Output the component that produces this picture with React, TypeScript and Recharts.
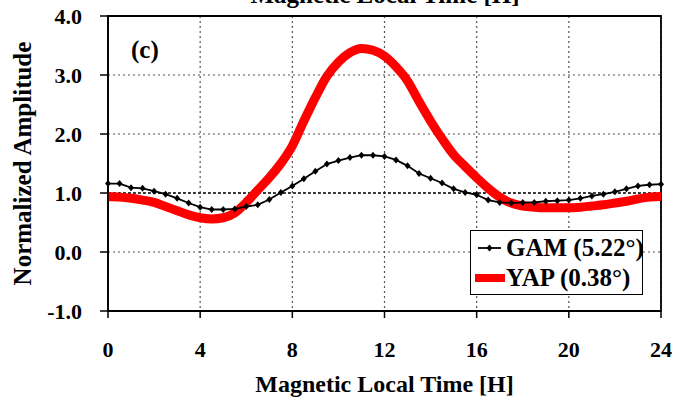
import React from "react";
import {
  LineChart,
  Line,
  XAxis,
  YAxis,
  CartesianGrid,
  ReferenceLine,
  ReferenceArea,
} from "recharts";

// magnetic local time, half-hour steps
const hours = [
  0, 0.5, 1, 1.5, 2, 2.5, 3, 3.5, 4, 4.5, 5, 5.5, 6, 6.5, 7, 7.5, 8, 8.5, 9,
  9.5, 10, 10.5, 11, 11.5, 12, 12.5, 13, 13.5, 14, 14.5, 15, 15.5, 16, 16.5,
  17, 17.5, 18, 18.5, 19, 19.5, 20, 20.5, 21, 21.5, 22, 22.5, 23, 23.5, 24,
];

const gam = [
  1.16, 1.16, 1.09, 1.08, 1.03, 0.98, 0.91, 0.83, 0.76, 0.72, 0.72, 0.73,
  0.77, 0.8, 0.89, 1.01, 1.12, 1.24, 1.37, 1.49, 1.55, 1.6, 1.64, 1.64, 1.62,
  1.56, 1.46, 1.33, 1.25, 1.17, 1.07, 1.01, 0.97, 0.88, 0.84, 0.83, 0.84,
  0.84, 0.86, 0.87, 0.88, 0.91, 0.95, 0.98, 1.02, 1.07, 1.12, 1.14, 1.15,
];

const yap = [
  0.94, 0.93, 0.91, 0.88, 0.84, 0.77, 0.7, 0.63, 0.58, 0.56, 0.58, 0.66,
  0.84, 1.05, 1.26, 1.5, 1.8, 2.22, 2.62, 2.98, 3.22, 3.38, 3.45, 3.42, 3.32,
  3.14, 2.9, 2.55, 2.22, 1.92, 1.65, 1.45, 1.26, 1.08, 0.93, 0.83, 0.78,
  0.76, 0.75, 0.75, 0.75, 0.76, 0.78, 0.8, 0.83, 0.86, 0.9, 0.93, 0.94,
];

const xTicks = [0, 4, 8, 12, 16, 20, 24];
const yTicks = [-1, 0, 1, 2, 3, 4];
const xMinor = hours;
const yMinor = Array.from({ length: 51 }, (_, i) => Math.round(i - 10) / 10);

const data = hours.map((t, i) => ({ t, gam: gam[i], yap: yap[i] }));

const FONT = "'Liberation Serif', 'Times New Roman', serif";
const tickStyle = { fontFamily: FONT, fontSize: 22, fontWeight: "bold", fill: "#000" };

const Diamond = (props: any) => {
  const { cx, cy, index } = props;
  if (cx == null || cy == null) return null;
  return (
    <polygon
      key={`dm-${index}`}
      points={`${cx},${cy - 3.5} ${cx + 3},${cy} ${cx},${cy + 3.5} ${cx - 3},${cy}`}
      fill="#000"
    />
  );
};

export default function App() {
  return (
    <div style={{ position: "fixed", left: 0, top: 0, width: 674, height: 398, background: "#fff" }}>
      <LineChart
        width={674}
        height={398}
        data={data}
        margin={{ top: 16, right: 13, left: 48, bottom: 0 }}
      >
        <CartesianGrid stroke="#555" strokeDasharray="2 3" strokeWidth={1.2} />
        <XAxis
          dataKey="t"
          type="number"
          domain={[0, 24]}
          ticks={xTicks}
          height={87}
          tickSize={7}
          tickMargin={23}
          stroke="#000"
          strokeWidth={1.5}
          tick={tickStyle}
          label={{
            value: "Magnetic Local Time [H]",
            position: "insideBottom",
            offset: 6,
            style: { fontFamily: FONT, fontSize: 24, fontWeight: "bold", fill: "#000" },
          }}
        />
        <XAxis
          xAxisId="minor"
          dataKey="t"
          type="number"
          domain={[0, 24]}
          ticks={xMinor}
          mirror
          tick={false}
          axisLine={false}
          tickSize={5}
          stroke="#000"
          strokeWidth={1.3}
        />
        <XAxis
          xAxisId="majorIn"
          dataKey="t"
          type="number"
          domain={[0, 24]}
          ticks={xTicks}
          mirror
          tick={false}
          axisLine={false}
          tickSize={7}
          stroke="#000"
          strokeWidth={1.5}
        />
        <YAxis
          type="number"
          domain={[-1, 4]}
          ticks={yTicks}
          width={60}
          tickSize={8}
          tickMargin={18}
          stroke="#000"
          strokeWidth={1.5}
          tick={tickStyle}
          tickFormatter={(v: number) => v.toFixed(1)}
          label={{
            value: "Normalized Amplitude",
            angle: -90,
            position: "center",
            dx: -56,
            style: { fontFamily: FONT, fontSize: 25, fontWeight: "bold", fill: "#000", textAnchor: "middle" },
          }}
        />
        <YAxis
          yAxisId="minor"
          type="number"
          domain={[-1, 4]}
          ticks={yMinor}
          mirror
          tick={false}
          axisLine={false}
          tickSize={6}
          stroke="#000"
          strokeWidth={1.3}
        />
        <ReferenceArea
          x1={0}
          x2={24}
          y1={-1}
          y2={4}
          fill="none"
          stroke="#000"
          strokeWidth={1.8}
          ifOverflow="visible"
        />
        <ReferenceLine y={1} stroke="#111" strokeDasharray="3 2" strokeWidth={1.6} />
        <Line
          type="monotone"
          dataKey="yap"
          stroke="#ff0000"
          strokeWidth={9}
          dot={false}
          isAnimationActive={false}
        />
        <Line
          type="linear"
          dataKey="gam"
          stroke="#000"
          strokeWidth={1.8}
          dot={<Diamond />}
          activeDot={false}
          isAnimationActive={false}
        />
      </LineChart>

      <svg
        width={674}
        height={398}
        style={{ position: "absolute", left: 0, top: 0, pointerEvents: "none" }}
      >
        <text
          x={385}
          y={3}
          textAnchor="middle"
          style={{ fontFamily: FONT, fontSize: 25, fontWeight: "bold" }}
        >
          Magnetic Local Time [H]
        </text>
        <text
          x={131}
          y={58}
          style={{ fontFamily: FONT, fontSize: 25, fontWeight: "bold" }}
        >
          (c)
        </text>
      </svg>

      <div
        style={{
          position: "absolute",
          left: 470,
          top: 230,
          width: 173,
          height: 65,
          border: "1.5px solid #000",
          background: "#fff",
          boxSizing: "border-box",
          fontFamily: FONT,
          fontWeight: "bold",
          fontSize: 25,
          lineHeight: "30px",
          whiteSpace: "nowrap",
        }}
      >
        <div style={{ display: "flex", alignItems: "center", height: 31, marginTop: 1 }}>
          <svg width={33} height={14} style={{ marginLeft: 2, flexShrink: 0 }}>
            <line x1={5} y1={7} x2={28} y2={7} stroke="#000" strokeWidth={1.8} />
            <polygon points="16.5,3.5 19.5,7 16.5,10.5 13.5,7" fill="#000" />
          </svg>
          <span style={{ whiteSpace: "nowrap" }}>GAM (5.22°)</span>
        </div>
        <div style={{ display: "flex", alignItems: "center", height: 30 }}>
          <svg width={33} height={14} style={{ marginLeft: 2, flexShrink: 0 }}>
            <line x1={2} y1={7} x2={32} y2={7} stroke="#ff0000" strokeWidth={8} />
          </svg>
          <span style={{ whiteSpace: "nowrap" }}>YAP (0.38°)</span>
        </div>
      </div>
    </div>
  );
}
